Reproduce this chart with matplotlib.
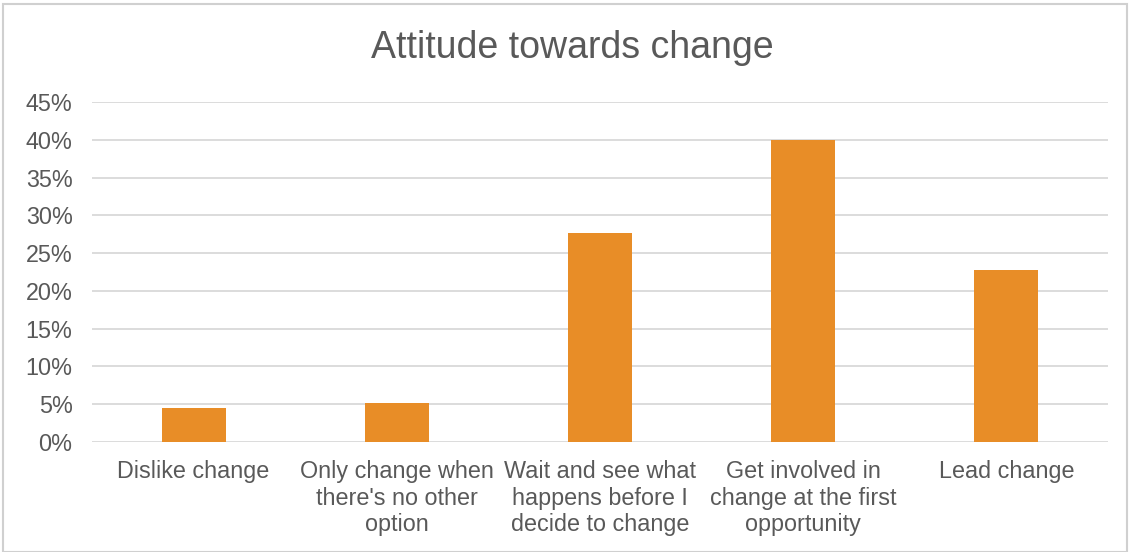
import matplotlib
matplotlib.use("Agg")
import matplotlib.pyplot as plt
from matplotlib.patches import Rectangle
from matplotlib.ticker import FuncFormatter

# Data
categories = [
    "Dislike change",
    "Only change when\nthere's no other\noption",
    "Wait and see what\nhappens before I\ndecide to change",
    "Get involved in\nchange at the first\nopportunity",
    "Lead change",
]
values = [4.45, 5.1, 27.6, 40.0, 22.7]  # percent
yticks = [0, 5, 10, 15, 20, 25, 30, 35, 40, 45]

text_color = "#595959"
bar_color = "#E88D27"
grid_color = "#D9D9D9"

plt.rcParams["font.family"] = ["Liberation Sans", "DejaVu Sans"]

W, H = 1131, 552
fig = plt.figure(figsize=(W / 100, H / 100), dpi=100)
ax = fig.add_axes([92 / W, 110 / H, (1108 - 92) / W, 340 / H])

x = range(len(categories))
ax.bar(x, values, width=0.315, color=bar_color, zorder=3)

ax.set_xlim(-0.5, len(categories) - 0.5)
ax.set_ylim(0, 45)
ax.set_yticks(yticks)
ax.yaxis.set_major_formatter(FuncFormatter(lambda v, p: f"{v:.0f}%"))
ax.set_xticks(list(x))
ax.set_xticklabels(categories, fontsize=16.8, color=text_color, linespacing=1.2)
ax.tick_params(axis="y", labelsize=16.8, labelcolor=text_color, length=0, pad=14)
ax.tick_params(axis="x", length=0, pad=13)

ax.grid(axis="y", color=grid_color, linewidth=1.3, zorder=0)
for s in ax.spines.values():
    s.set_visible(False)

fig.text(572 / W, 1 - 48 / H, "Attitude towards change", fontsize=27,
         color=text_color, ha="center", va="center")

# outer chart border
fig.patches.append(Rectangle((3 / W, 0), (1127 - 3) / W, (H - 4) / H,
                             transform=fig.transFigure, fill=False,
                             edgecolor="#D0D0D0", linewidth=1.5))

fig.savefig("out.png", dpi=100)
